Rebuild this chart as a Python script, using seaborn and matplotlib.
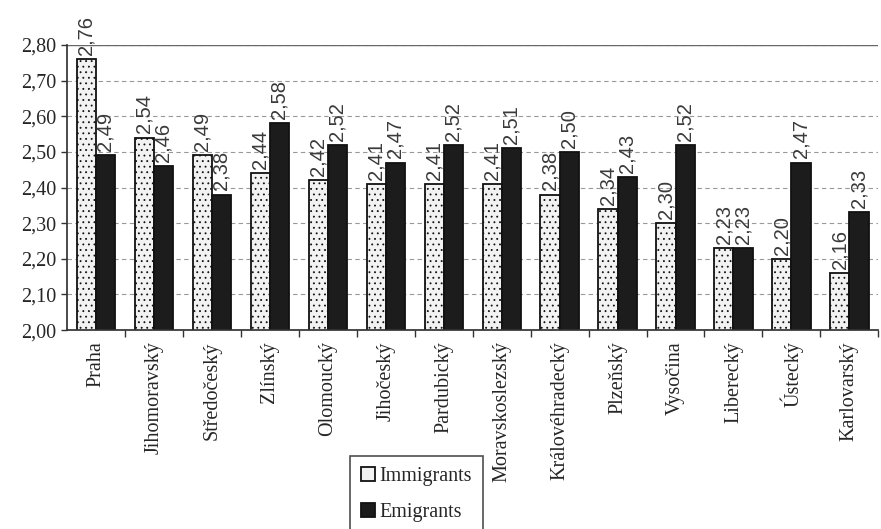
import matplotlib
matplotlib.use('Agg')
import matplotlib.pyplot as plt
import seaborn as sns
import pandas as pd
import numpy as np

# regiony a prumerne hodnoty
regions = ['Praha', 'Jihomoravský', 'Středočeský', 'Zlínský', 'Olomoucký',
           'Jihočeský', 'Pardubický', 'Moravskoslezský', 'Královéhradecký',
           'Plzeňský', 'Vysočina', 'Liberecký', 'Ústecký', 'Karlovarský']
immigrants = [2.76, 2.54, 2.49, 2.44, 2.42, 2.41, 2.41, 2.41, 2.38, 2.34, 2.30, 2.23, 2.20, 2.16]
emigrants = [2.49, 2.46, 2.38, 2.58, 2.52, 2.47, 2.52, 2.51, 2.50, 2.43, 2.52, 2.23, 2.47, 2.33]
series = ['Immigrants', 'Emigrants']
yticks = [2.00, 2.10, 2.20, 2.30, 2.40, 2.50, 2.60, 2.70, 2.80]

df = pd.DataFrame({
    'region': regions * 2,
    'value': immigrants + emigrants,
    'series': [series[0]] * len(regions) + [series[1]] * len(regions),
})

sns.set_theme(style='white')
plt.rcParams['font.family'] = ['Liberation Serif', 'DejaVu Serif']
plt.rcParams['hatch.color'] = '#c4c4c4'
plt.rcParams['hatch.linewidth'] = 0.6

fig = plt.figure(figsize=(8.81, 5.29), dpi=100)
ax = fig.add_axes([0.076, 0.376, 0.921, 0.539])

sns.barplot(data=df, x='region', y='value', hue='series', order=regions,
            hue_order=series, palette=['#f2f2f2', '#1c1c1c'], width=0.66,
            edgecolor='#111111', linewidth=1.3, ax=ax, legend=True)

for cont, vals in zip(ax.containers, [immigrants, emigrants]):
    if cont[0].get_facecolor()[0] > 0.5:
        for p in cont:
            p.set_hatch('...')
    ax.bar_label(cont, labels=[f'{v:.2f}'.replace('.', ',') for v in vals],
                 rotation=90, padding=3, fontsize=14.5, color='#3a3a3a',
                 family='Liberation Sans', clip_on=False)

ax.set_ylim(2.0, 2.8)
ax.set_yticks(yticks)
ax.set_yticklabels([f'{t:.2f}'.replace('.', ',') for t in yticks], fontsize=14.5)
ax.set_xlim(-0.5, len(regions) - 0.5)
ax.set_xlabel('')
ax.set_ylabel('')
ax.set_xticks(range(len(regions)))
ax.set_xticklabels(regions, rotation=90, fontsize=14.5)
ax.set_xticks(np.arange(len(regions)) + 0.5, minor=True)
ax.tick_params(axis='x', which='major', length=0, pad=8)
ax.tick_params(axis='x', which='minor', length=5, width=1, color='#333333', direction='out', bottom=True)
ax.tick_params(axis='y', length=4, width=1, color='#333333', direction='out', left=True)

ax.grid(axis='y', linestyle=(0, (4, 3)), color='#999999', linewidth=0.8)
ax.set_axisbelow(True)
for s in ['top', 'right']:
    ax.spines[s].set_visible(False)
ax.axhline(2.8, color='#666666', linewidth=1.0)
ax.spines['left'].set_color('#333333')
ax.spines['bottom'].set_color('#333333')

leg = ax.legend(loc='upper left', bbox_to_anchor=(0.397, 0.138), bbox_transform=fig.transFigure,
                borderaxespad=0, frameon=True, fontsize=14.5, handlelength=0.7,
                handleheight=0.7, handletextpad=0.2, labelspacing=0.85, borderpad=0.55,
                fancybox=False, edgecolor='#222222')
leg.get_frame().set_linewidth(1.2)

fig.savefig('out.png', dpi=100)
